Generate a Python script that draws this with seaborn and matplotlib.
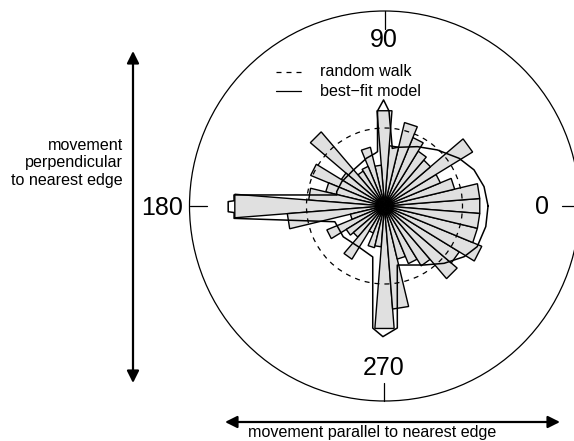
import numpy as np
import pandas as pd
import matplotlib
matplotlib.use("Agg")
import matplotlib.pyplot as plt
import seaborn as sns

# rose diagram: 40 bins of 9 degrees, centred on multiples of 9
bin_deg = list(range(0, 360, 9))
# bar length as a fraction of the outer circle radius
bar_len = [0.49, 0.49, 0.37, 0.31, 0.53, 0.31, 0.33, 0.38, 0.44, 0.31,
           0.49, 0.21, 0.31, 0.22, 0.21, 0.50, 0.26, 0.41, 0.31, 0.39,
           0.77, 0.50, 0.18, 0.32, 0.23, 0.21, 0.32, 0.15, 0.22, 0.21,
           0.63, 0.53, 0.28, 0.32, 0.36, 0.49, 0.45, 0.54, 0.49, 0.49]

# best-fit model curve (angle in degrees, radius)
model_deg = [0, 11, 22, 32.6, 46.7, 61, 77.7, 82.3, 87.3, 90.5, 94.2, 97.3,
             100.2, 110.5, 131, 150.4, 163.3, 167, 175.8, 178, 178.4, 182.1,
             182.5, 184.7, 197.6, 216.7, 237.2, 253.5, 257, 264.5, 269.3, 276,
             282.2, 285.4, 303.8, 316.1, 327.5, 336.3, 348.5, 360]
model_r = [0.531, 0.520, 0.495, 0.454, 0.395, 0.348, 0.308, 0.298, 0.488, 0.544,
           0.489, 0.281, 0.274, 0.262, 0.244, 0.252, 0.256, 0.251, 0.774, 0.772,
           0.802, 0.802, 0.772, 0.774, 0.267, 0.264, 0.248, 0.262, 0.268, 0.629,
           0.670, 0.629, 0.310, 0.314, 0.364, 0.424, 0.484, 0.519, 0.530, 0.531]

random_walk_r = 0.40
tick_deg = [0, 90, 180, 270]
tick_labels = ["0", "90", "180", "270"]

sns.set_theme(style="white")
plt.rcParams["font.family"] = ["Liberation Sans", "DejaVu Sans"]
plt.rcParams["text.color"] = "black"

W, H = 574, 441
CX, CY, R = 384.5, 206, 195   # circle centre / radius in pixels


def px(x, y):
    # pixel position -> data units (outer circle radius = 1)
    return (x - CX) / R, (CY - y) / R


fig = plt.figure(figsize=(W / 100, H / 100), dpi=100)
ax = fig.add_axes([0, 0, 1, 1])
x0, y0 = px(0, H)
x1, y1 = px(W, 0)
ax.set_xlim(x0, x1)
ax.set_ylim(y0, y1)
ax.axis("off")

# bars as flat-topped wedges
half = np.deg2rad(4.5)
for d, r in zip(bin_deg, bar_len):
    a = np.deg2rad(d)
    xs = [0, r * np.cos(a - half), r * np.cos(a + half)]
    ys = [0, r * np.sin(a - half), r * np.sin(a + half)]
    ax.fill(xs, ys, facecolor="#e0e0e0", edgecolor="black", lw=1.0, zorder=2)

# outer circle and random-walk circle
ax.add_patch(plt.Circle((0, 0), 1, fill=False, color="black", lw=0.9, zorder=1))
ax.add_patch(plt.Circle((0, 0), random_walk_r, fill=False, color="black",
                        lw=0.9, ls=(0, (4, 4)), zorder=3))

# model curve
th = np.deg2rad(model_deg)
df = pd.DataFrame({"x": np.array(model_r) * np.cos(th),
                   "y": np.array(model_r) * np.sin(th)})
sns.lineplot(data=df, x="x", y="y", sort=False, estimator=None,
             color="black", lw=1.1, ax=ax, zorder=4)
ax.set_xlabel("")
ax.set_ylabel("")

# ticks (inward) and labels
for d in tick_deg:
    a = np.deg2rad(d)
    ax.plot([np.cos(a), 0.91 * np.cos(a)], [np.sin(a), 0.91 * np.sin(a)],
            color="black", lw=0.9)
label_pos = [(542.5, 207), (384, 40), (162.5, 208), (384, 368)]
for (lx, ly), t in zip(label_pos, tick_labels):
    ax.text(*px(lx, ly), t, ha="center", va="center", fontsize=18)

# legend
ax.plot(*zip(px(276, 72), px(301, 72)), color="black", lw=0.9, ls=(0, (4, 4)))
ax.plot(*zip(px(276, 91), px(301, 91)), color="black", lw=0.9)
ax.text(*px(320, 72), "random walk", ha="left", va="center", fontsize=11.6)
ax.text(*px(320, 91), "best\u2212fit model", ha="left", va="center", fontsize=11.6)

# arrows and their labels
arrow = dict(arrowstyle="<|-|>", lw=1.6, color="black", mutation_scale=18,
             shrinkA=0, shrinkB=0)
ax.annotate("", xy=px(133, 51), xytext=px(133, 383), arrowprops=arrow)
ax.annotate("", xy=px(225, 422), xytext=px(560, 422), arrowprops=arrow)
ax.text(*px(123, 163), "movement\nperpendicular\nto nearest edge",
        ha="right", va="center", multialignment="right", fontsize=11.6)
ax.text(*px(372, 440.5), "movement parallel to nearest edge",
        ha="center", va="bottom", fontsize=11.6)

fig.savefig("out.png", dpi=100)
